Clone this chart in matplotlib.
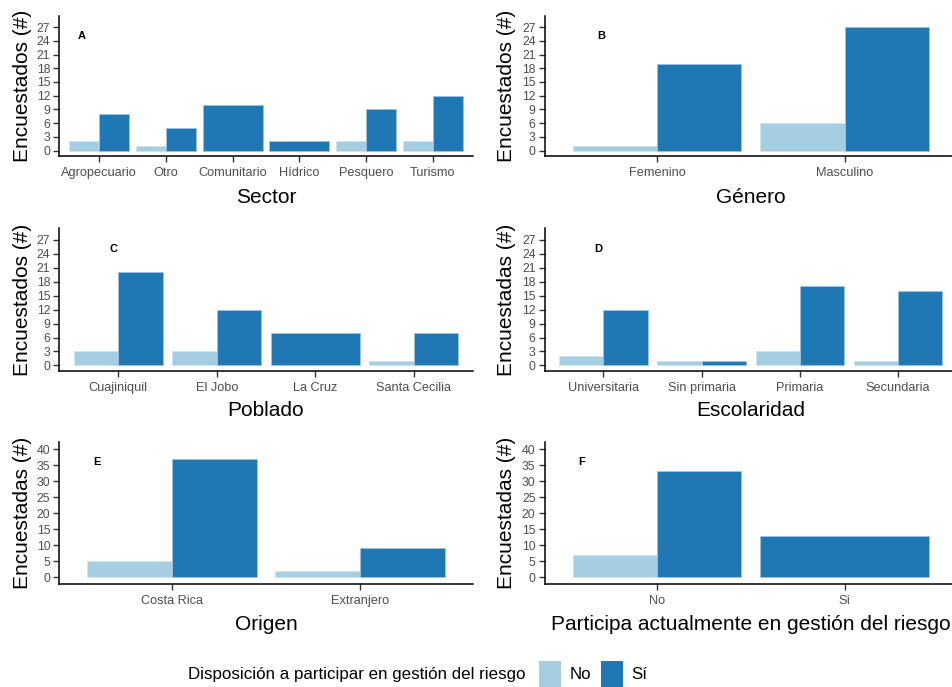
import matplotlib
matplotlib.use("Agg")
import matplotlib.pyplot as plt
from matplotlib.patches import Patch

plt.rcParams['font.family'] = ['Liberation Sans', 'DejaVu Sans']

# Survey counts: respondents willing (Sí) / not willing (No) to take part in risk management
sector_cats = ["Agropecuario", "Otro", "Comunitario", "Hídrico", "Pesquero", "Turismo"]
sector_no = [2, 1, 0, 0, 2, 2]
sector_si = [8, 5, 10, 2, 9, 12]

genero_cats = ["Femenino", "Masculino"]
genero_no = [1, 6]
genero_si = [19, 27]

poblado_cats = ["Cuajiniquil", "El Jobo", "La Cruz", "Santa Cecilia"]
poblado_no = [3, 3, 0, 1]
poblado_si = [20, 12, 7, 7]

escolaridad_cats = ["Universitaria", "Sin primaria", "Primaria", "Secundaria"]
escolaridad_no = [2, 1, 3, 1]
escolaridad_si = [12, 1, 17, 16]

origen_cats = ["Costa Rica", "Extranjero"]
origen_no = [5, 2]
origen_si = [37, 9]

participa_cats = ["No", "Sí"]
participa_no = [7, 0]
participa_si = [33, 13]

C_NO = "#A6CEE3"
C_SI = "#1F78B4"
TICK_GREY = "#4D4D4D"

W, H = 952, 687
fig = plt.figure(figsize=(W / 100, H / 100), dpi=100)


def px_axes(left, top, right, bottom):
    return fig.add_axes([left / W, 1 - bottom / H, (right - left) / W, (bottom - top) / H])


def draw_panel(ax, cats, no, si, xlabel, ylabel, letter, letter_xy,
               ylim, yticks, ylab_x, xlab_y):
    n = len(cats)
    for i in range(n):
        x = i + 1
        has_no = no[i] > 0
        has_si = si[i] > 0
        if has_no and has_si:
            ax.bar(x - 0.225, no[i], width=0.45, color=C_NO, edgecolor="#CFE3F0", linewidth=0.6)
            ax.bar(x + 0.225, si[i], width=0.45, color=C_SI, edgecolor="#9CC3E0", linewidth=0.6)
        elif has_si:
            ax.bar(x, si[i], width=0.9, color=C_SI, edgecolor="#9CC3E0", linewidth=0.6)
        elif has_no:
            ax.bar(x, no[i], width=0.9, color=C_NO, edgecolor="#CFE3F0", linewidth=0.6)
    ax.set_xlim(0.4, n + 0.6)
    ax.set_ylim(*ylim)
    ax.set_xticks(range(1, n + 1))
    ax.set_xticklabels(cats)
    ax.set_yticks(yticks)
    for s in ("top", "right"):
        ax.spines[s].set_visible(False)
    for s in ("left", "bottom"):
        ax.spines[s].set_linewidth(1.1)
        ax.spines[s].set_color("black")
    ax.tick_params(axis="x", length=4, width=1.0, color="#333333", pad=4,
                   labelsize=9.2, labelcolor=TICK_GREY)
    ax.tick_params(axis="y", length=4, width=1.0, color="#333333", pad=2.5,
                   labelsize=8.8, labelcolor=TICK_GREY)
    ax.set_xlabel(xlabel, fontsize=15)
    ax.set_ylabel(ylabel, fontsize=15)
    ax.xaxis.set_label_coords(0.5, xlab_y)
    ax.xaxis.label.set_va("center")
    ax.yaxis.set_label_coords(ylab_x, 0.5)
    ax.yaxis.label.set_va("center")
    ax.text(letter_xy[0], letter_xy[1], letter, fontsize=8, fontweight="bold",
            ha="center", va="center")


ticks27 = list(range(0, 28, 3))
ticks40 = list(range(0, 41, 5))
lim27 = (-1.2, 29.5)
lim40 = (-2.1, 42.1)

axA = px_axes(59.3, 15.7, 472.7, 156)
draw_panel(axA, sector_cats, sector_no, sector_si, "Sector", "Encuestados (#)",
           "A", (0.73, 25), lim27, ticks27, -0.09, -0.295)

axB = px_axes(544.5, 15.7, 957, 156)
draw_panel(axB, genero_cats, genero_no, genero_si, "Género", "Encuestados (#)",
           "B", (0.7, 25), lim27, ticks27, -0.093, -0.295)

axC = px_axes(59.3, 228.3, 472.7, 371)
draw_panel(axC, poblado_cats, poblado_no, poblado_si, "Poblado", "Encuestados (#)",
           "C", (0.95, 25), lim27, ticks27, -0.09, -0.28)

axD = px_axes(544.5, 228.3, 957, 371)
draw_panel(axD, escolaridad_cats, escolaridad_no, escolaridad_si, "Escolaridad",
           "Encuestadas (#)", "D", (0.95, 25), lim27, ticks27, -0.093, -0.28)

axE = px_axes(59.3, 442.3, 472.7, 584)
draw_panel(axE, origen_cats, origen_no, origen_si, "Origen", "Encuestadas (#)",
           "E", (0.6, 36), lim40, ticks40, -0.09, -0.285)

axF = px_axes(544.5, 442.3, 957, 584)
draw_panel(axF, participa_cats, participa_no, participa_si,
           "Participa actualmente en gestión del riesgo", "Encuestadas (#)",
           "F", (0.6, 36), lim40, ticks40, -0.093, -0.285)

# Shared legend along the bottom
fig.text(357 / W, 1 - 674 / H, "Disposición a participar en gestión del riesgo",
         fontsize=12.2, ha="center", va="center")
handles = [Patch(facecolor=C_NO, edgecolor="none"), Patch(facecolor=C_SI, edgecolor="none")]
fig.legend(handles, ["No", "Sí"], ncol=2, frameon=False, fontsize=12.2,
           loc="center left", bbox_to_anchor=(527 / W, 1 - 674 / H),
           handlelength=1.3, handleheight=1.9, handletextpad=0.5, columnspacing=0.6,
           borderpad=0.2)

fig.savefig("out.png", dpi=100)
